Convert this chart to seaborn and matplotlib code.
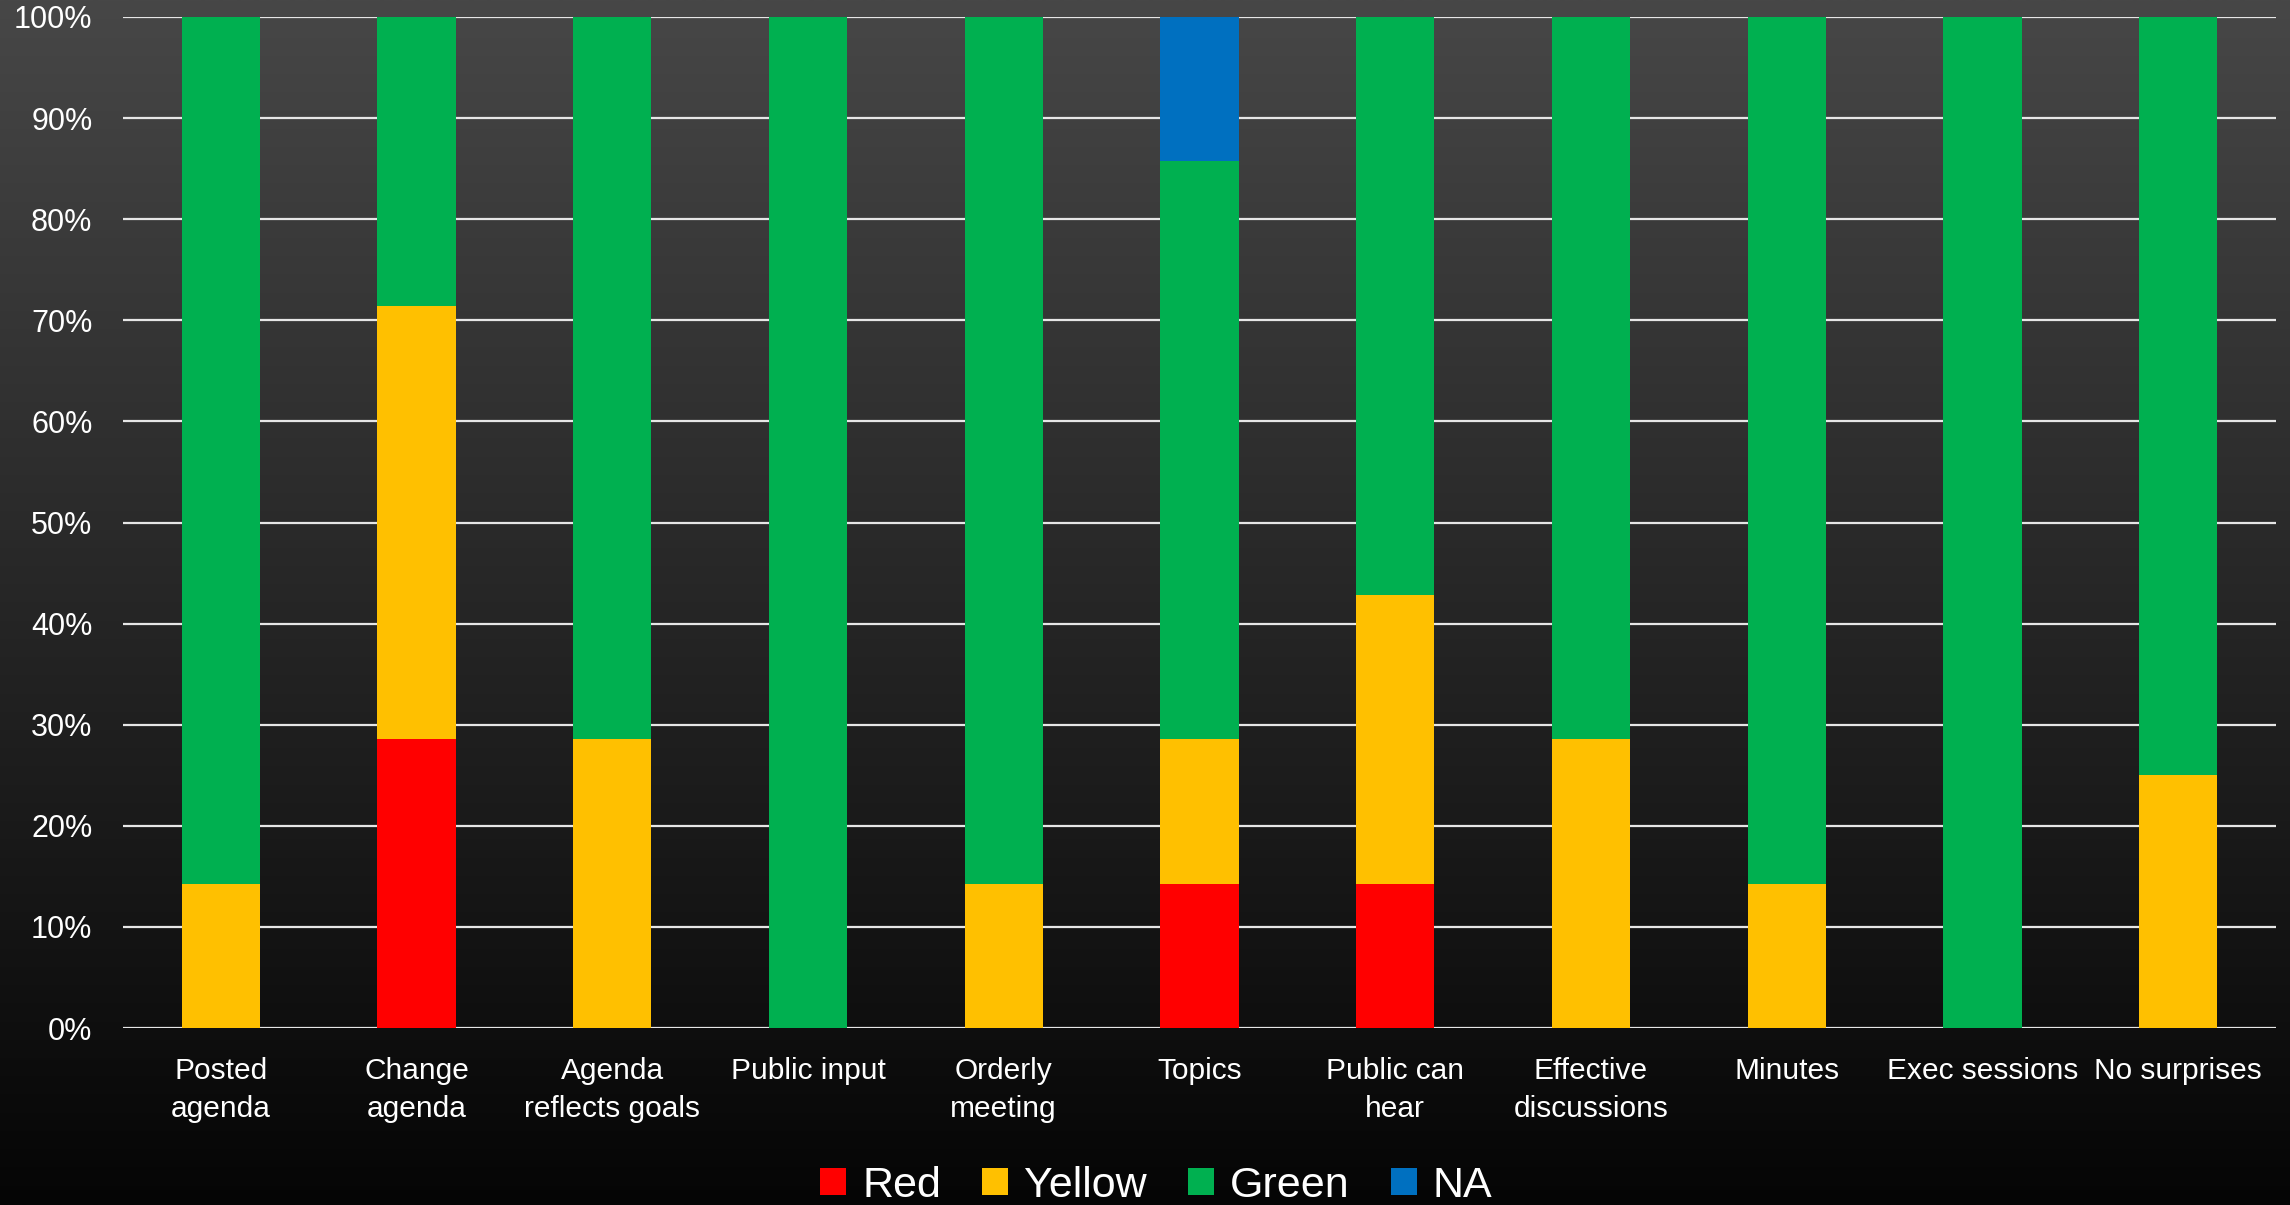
import numpy as np
import pandas as pd
import matplotlib
matplotlib.use("Agg")
import matplotlib.pyplot as plt
import seaborn as sns
from matplotlib.patches import Patch

# Survey items and the share of ratings in each colour band (percent)
categories = ["Posted\nagenda", "Change\nagenda", "Agenda\nreflects goals", "Public input",
              "Orderly\nmeeting", "Topics", "Public can\nhear", "Effective\ndiscussions",
              "Minutes", "Exec sessions", "No surprises"]
red_pct = [0, 28.57, 0, 0, 0, 14.29, 14.29, 0, 0, 0, 0]
yellow_pct = [14.29, 42.86, 28.57, 0, 14.29, 14.29, 28.57, 28.57, 14.29, 0, 25.0]
green_pct = [85.71, 28.57, 71.43, 100.0, 85.71, 57.14, 57.14, 71.43, 85.71, 100.0, 75.0]
na_pct = [0, 0, 0, 0, 0, 14.29, 0, 0, 0, 0, 0]

series_names = ["Red", "Yellow", "Green", "NA"]
series_colors = ["#FF0000", "#FFC000", "#00B050", "#0070C0"]
y_ticks = [0, 10, 20, 30, 40, 50, 60, 70, 80, 90, 100]
y_tick_labels = [f"{t}%" for t in y_ticks]

df = pd.DataFrame({"category": categories, "Red": red_pct, "Yellow": yellow_pct,
                   "Green": green_pct, "NA": na_pct})

sns.set_theme(style="white")
plt.rcParams["font.family"] = ["Liberation Sans", "DejaVu Sans"]

W, H, DPI = 2290, 1205, 100
fig = plt.figure(figsize=(W / DPI, H / DPI), dpi=DPI)

# Dark vertical gradient behind everything
bg = fig.add_axes([0, 0, 1, 1], zorder=0)
grad = np.linspace(0x47, 0x05, 512) / 255.0
col = np.repeat(grad[:, None], 2, axis=1)
img = np.dstack([col, col, col])
bg.imshow(img, aspect="auto", extent=[0, 1, 0, 1], interpolation="bilinear")
bg.set_axis_off()

ax = fig.add_axes([123 / W, 1 - 1028 / H, (2276 - 123) / W, (1028 - 17) / H], zorder=1)
ax.patch.set_alpha(0)

bottom = np.zeros(len(categories))
for name, color in zip(series_names, series_colors):
    vals = df[name].to_numpy()
    sns.barplot(data=df, x="category", y=name, bottom=bottom, color=color,
                width=0.4, linewidth=0, saturation=1, ax=ax, zorder=3)
    bottom = bottom + vals

ax.set_ylim(0, 100)
ax.set_xlim(-0.5, len(categories) - 0.5)
ax.set_yticks(y_ticks)
ax.set_yticklabels(y_tick_labels)
ax.grid(axis="y", color="#E6E6E6", linewidth=1.6, zorder=1)
ax.set_axisbelow(True)
for s in ax.spines.values():
    s.set_visible(False)
ax.set_xlabel("")
ax.set_ylabel("")
ax.tick_params(axis="y", length=0, pad=22, labelsize=22, labelcolor="white")
ax.tick_params(axis="x", length=0, pad=21, labelsize=21.5, labelcolor="white")
for lbl in ax.get_xticklabels():
    lbl.set_linespacing(1.44)

handles = [Patch(facecolor=c, edgecolor="none") for c in series_colors]
fig.legend(handles, series_names, loc="center", bbox_to_anchor=(0.505, 0.016),
           ncol=4, frameon=False, fontsize=31, labelcolor="white",
           handlelength=0.6, handleheight=0.6, handletextpad=0.38,
           columnspacing=0.95)

fig.savefig("out.png", dpi=DPI)
